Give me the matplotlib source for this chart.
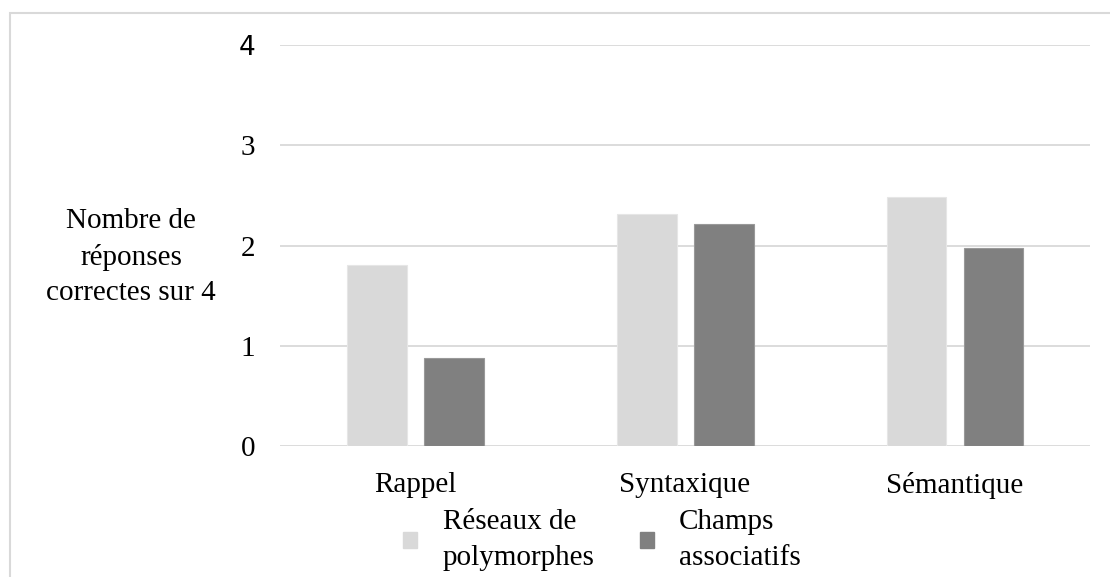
import matplotlib
matplotlib.use("Agg")
import matplotlib.pyplot as plt
from matplotlib.patches import Rectangle, Patch
import numpy as np

categories = ["Rappel", "Syntaxique", "Sémantique"]
series_names = ["Réseaux de\npolymorphes", "Champs\nassociatifs"]
reseaux = [1.81, 2.31, 2.48]
champs = [0.88, 2.21, 1.98]
yticks = [0, 1, 2, 3, 4]
ylabel = "Nombre de\nréponses\ncorrectes sur 4"

plt.rcParams['font.family'] = ['Liberation Serif', 'DejaVu Serif']
FS = 21

fig = plt.figure(figsize=(11.1, 5.77), dpi=100)
ax = fig.add_axes([0.2523, 0.2270, 0.7297, 0.695])

x = np.arange(len(categories))
w = 0.222
off = 0.1426
c_light = "#d9d9d9"
c_dark = "#808080"
ax.bar(x - off, reseaux, w, color=c_light, edgecolor="#e6e6e6", linewidth=0.8, zorder=3)
ax.bar(x + off, champs, w, color=c_dark, edgecolor="#999999", linewidth=0.8, zorder=3)

ax.set_xlim(-0.5, 2.5)
ax.set_ylim(0, 4)
ax.set_yticks(yticks)
ax.set_yticklabels([str(t) for t in yticks], fontsize=FS)
ax.get_yticklabels()[-1].set_fontfamily('DejaVu Sans')
ax.get_yticklabels()[-1].set_fontsize(19)
ax.set_xticks(x)
ax.set_xticklabels(categories, fontsize=FS)
ax.tick_params(axis='both', length=0)
ax.tick_params(axis='y', pad=18)
ax.tick_params(axis='x', pad=19)
ax.yaxis.grid(True, color="#d9d9d9", linewidth=1.3, zorder=0)
ax.set_axisbelow(True)
for s in ax.spines.values():
    s.set_visible(False)

fig.text(0.118, 0.5546, ylabel, ha='center', va='center', multialignment='center',
         fontsize=FS, linespacing=1.46)

# outer chart frame
fig.patches.append(Rectangle((10/1110, -0.2), 1.2, 1 - 13/577 + 0.2, transform=fig.transFigure,
                             fill=False, edgecolor="#d9d9d9", linewidth=1.5))

handles = [Patch(facecolor=c_light, edgecolor=c_light), Patch(facecolor=c_dark, edgecolor=c_dark)]
fig.legend(handles, series_names, loc='center', bbox_to_anchor=(0.5423, 0.064), ncol=2,
           frameon=False, fontsize=FS, handlelength=0.48, handleheight=0.48,
           handletextpad=0.86, columnspacing=1.55)
for t in fig.legends[0].get_texts():
    t.set_linespacing(1.46)

fig.savefig("out.png", dpi=100)
